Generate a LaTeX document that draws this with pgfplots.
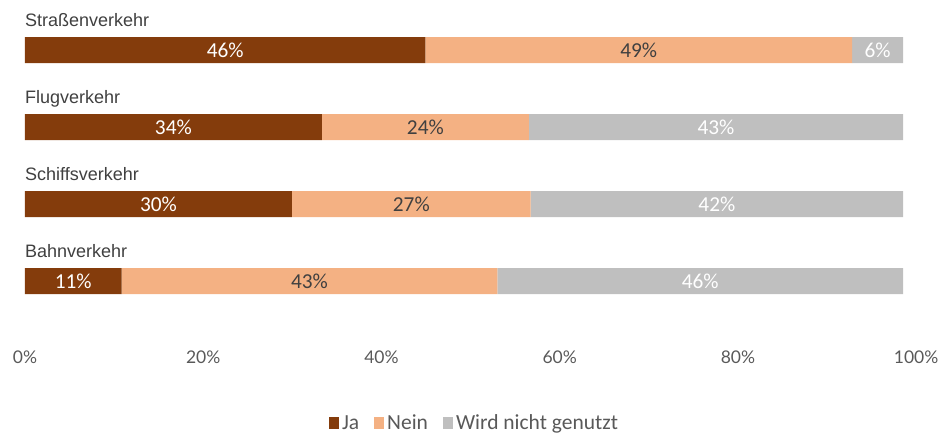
\documentclass[border=0pt]{standalone}
\usepackage{fontspec}
\setmainfont{Liberation Sans}
\newfontfamily\carlito{Carlito}
\newfontfamily\lato{Lato}
\usepackage{pgfplots}
\pgfplotsset{compat=1.18}
\definecolor{cJa}{HTML}{843C0C}
\definecolor{cNein}{HTML}{F4B183}
\definecolor{cWird}{HTML}{BFBFBF}
\definecolor{txtdark}{HTML}{404040}
\definecolor{txtgray}{HTML}{595959}
\begin{document}
\begin{tikzpicture}
\path[use as bounding box] (0,0) rectangle (943pt,434pt);
\begin{axis}[
  at={(25pt,91.4pt)}, anchor=south west,
  scale only axis, width=892.05pt, height=338.8pt,
  xbar stacked, bar width=26pt,
  xmin=0, xmax=101.6, ymin=-0.8, ymax=3.6,
  axis line style={draw=none}, major tick style={draw=none},
  ytick=\empty,
  xtick={0,20.3,40.6,60.9,81.2,101.5},
  xticklabels={0\%,20\%,40\%,60\%,80\%,100\%},
  xticklabel style={anchor=center, yshift=-14.4pt, font=\lato\fontsize{17.5}{20}\selectfont, text=txtgray},
  clip=false,
  visualization depends on={rawx \as \rawx},
  nodes near coords={\pgfmathprintnumber[fixed,precision=0,assume math mode=true]{\rawx}\%},
  every node near coord/.append style={anchor=center, font=\carlito\fontsize{21.3}{23}\selectfont},
  legend style={at={(0.5045,-0.237)}, anchor=center, draw=none, legend columns=3,
    font=\carlito\fontsize{21.5}{23}\selectfont, text=txtgray,
    nodes={inner xsep=3pt},
    /tikz/every even column/.append style={column sep=12pt}},
  legend cell align=left,
  legend image code/.code={\fill[#1] (0pt,-6pt) rectangle (10pt,6pt);},
]
\addplot[fill=cJa, draw=none, every node near coord/.append style={text=white}] coordinates {(45.6,3) (33.8,2) (30.4,1) (11.0,0)};
\addplot[fill=cNein, draw=none, every node near coord/.append style={text=txtdark}] coordinates {(48.6,3) (23.6,2) (27.2,1) (42.8,0)};
\addplot[fill=cWird, draw=none, every node near coord/.append style={text=white}] coordinates {(5.8,3) (42.6,2) (42.4,1) (46.2,0)};
\legend{Ja,Nein,Wird nicht genutzt}
\node[anchor=base west, inner sep=0pt, font=\fontsize{18}{21}\selectfont, text=txtdark] at (axis cs:0,3.3) {Straßenverkehr};
\node[anchor=base west, inner sep=0pt, font=\fontsize{18}{21}\selectfont, text=txtdark] at (axis cs:0,2.3) {Flugverkehr};
\node[anchor=base west, inner sep=0pt, font=\fontsize{18}{21}\selectfont, text=txtdark] at (axis cs:0,1.3) {Schiffsverkehr};
\node[anchor=base west, inner sep=0pt, font=\fontsize{18}{21}\selectfont, text=txtdark] at (axis cs:0,0.3) {Bahnverkehr};
\end{axis}
\end{tikzpicture}
\end{document}
